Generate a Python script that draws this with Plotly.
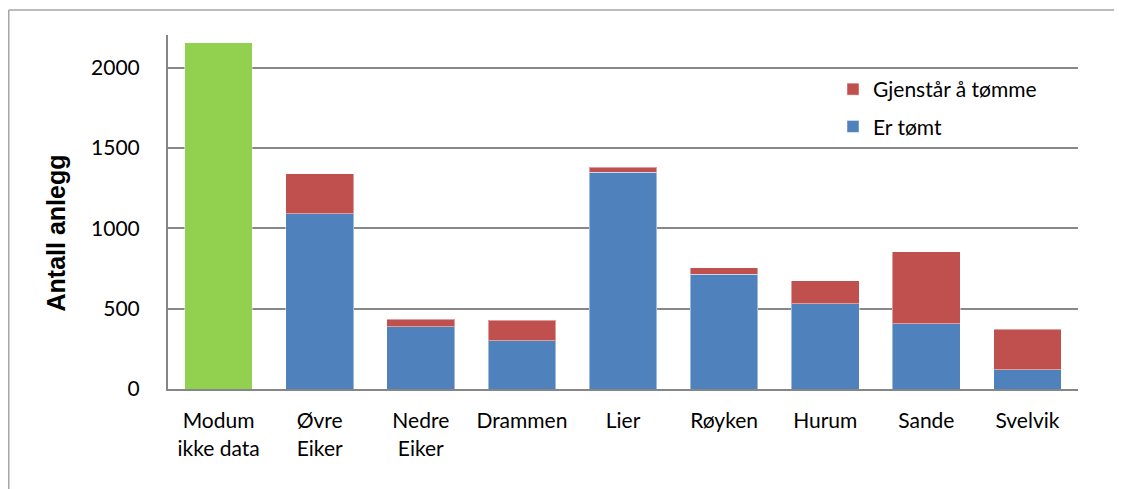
import plotly.graph_objects as go

# kommuner langs x-aksen
kommuner = ["Modum<br>ikke data", "Øvre<br>Eiker", "Nedre<br>Eiker", "Drammen", "Lier",
            "Røyken", "Hurum", "Sande", "Svelvik"]

# antall anlegg som er tømt / gjenstår (Modum har ikke data)
er_tomt = [None, 1092, 387, 300, 1349, 713, 532, 406, 120]
gjenstar = [None, 249, 48, 129, 32, 41, 141, 448, 253]
modum_total = [2154, None, None, None, None, None, None, None, None]

font = "Lato, 'Open Sans', sans-serif"
outline = dict(color="rgba(255,255,255,0.45)", width=1)

# siden har 8px marg, så figuren flyttes litt
W, H = 1114, 481
L, T, R, B = 160, 27, 44, 100
pw, ph = W - L - R, H - T - B

fig = go.Figure()
fig.add_trace(go.Bar(x=kommuner, y=modum_total, marker=dict(color="#92D050", line=outline),
                     showlegend=False, name="Modum"))
fig.add_trace(go.Bar(x=kommuner, y=er_tomt, marker=dict(color="#4F81BD", line=outline),
                     name="Er tømt", legendgroup="b", legendrank=2))
fig.add_trace(go.Bar(x=kommuner, y=gjenstar, marker=dict(color="#C0504D", line=outline),
                     name="Gjenstår å tømme", legendgroup="a", legendrank=1))

fig.update_layout(
    width=W, height=H,
    barmode="stack", bargap=0.33,
    margin=dict(l=L, r=R, t=T, b=B),
    paper_bgcolor="white", plot_bgcolor="white",
    font=dict(family=font, size=21, color="black"),
    legend=dict(x=(833 - 168) / pw, y=(381 - 61) / ph, xanchor="left", yanchor="top",
                traceorder="grouped", tracegroupgap=7,
                font=dict(size=21, color="black"), bgcolor="rgba(0,0,0,0)", itemwidth=30),
    xaxis=dict(showline=True, linecolor="#868686", linewidth=2, showgrid=False,
               ticks="", ticklabelstandoff=12, tickfont=dict(size=21)),
    yaxis=dict(range=[0, 2203], tickvals=[0, 500, 1000, 1500, 2000],
               showline=True, linecolor="#868686", linewidth=2,
               showgrid=True, gridcolor="#888888", gridwidth=2,
               ticks="", ticklabelstandoff=22, tickfont=dict(size=21),
               zeroline=False),
    annotations=[
        dict(text="<b>Antall anlegg</b>", xref="paper", yref="paper",
             x=(47 - 160) / pw, y=(381 - 225.5) / ph, xanchor="center", yanchor="middle",
             textangle=-90, showarrow=False,
             font=dict(family="Liberation Sans, Arial", size=25, color="black")),
    ],
    shapes=[
        dict(type="line", xref="paper", yref="paper", x0=(0.75 - L) / pw, x1=(W - L) / pw,
             y0=(381 - 2) / ph, y1=(381 - 2) / ph, line=dict(color="#A6A6A6", width=1.5)),
        dict(type="line", xref="paper", yref="paper", x0=(0.75 - L) / pw, x1=(0.75 - L) / pw,
             y0=(381 - 2) / ph, y1=(381 - H) / ph, line=dict(color="#A6A6A6", width=1.5)),
    ],
)

fig.write_html("out.html")
